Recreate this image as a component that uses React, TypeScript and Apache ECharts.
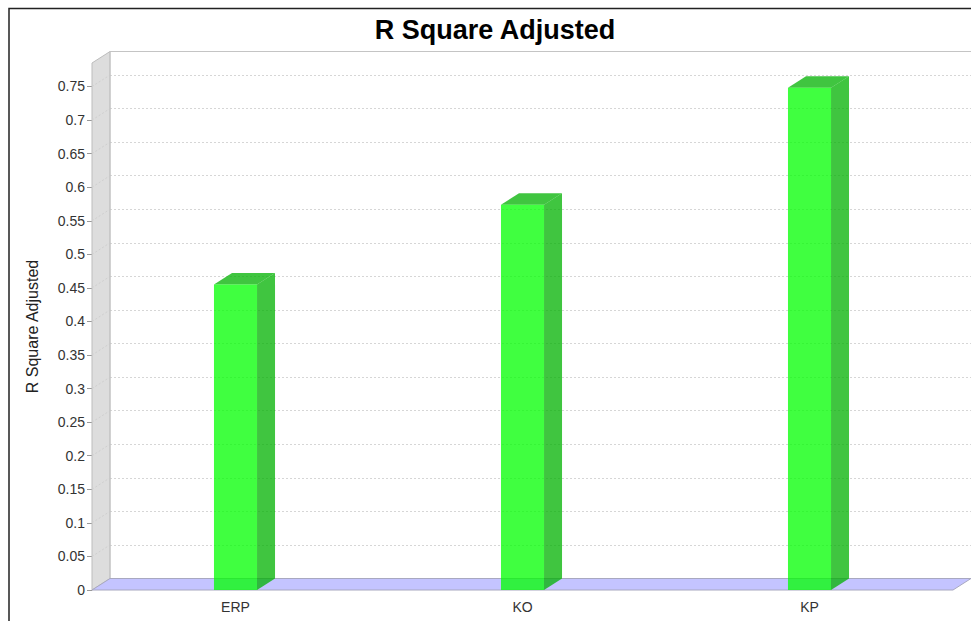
import React, { useEffect, useRef } from 'react';
import * as echarts from 'echarts';

const categories = ['ERP', 'KO', 'KP'];
const values = [0.455, 0.574, 0.748];
const yTicks = [0, 0.05, 0.1, 0.15, 0.2, 0.25, 0.3, 0.35, 0.4, 0.45, 0.5, 0.55, 0.6, 0.65, 0.7, 0.75];
const yMax = 0.785;
const titleText = 'R Square Adjusted';
const axisName = 'R Square Adjusted';

const DX = 18;
const DY = 11.5;
const FONT = '"Liberation Sans", Arial, sans-serif';

export default function App() {
  const ref = useRef<HTMLDivElement>(null);
  useEffect(() => {
    const chart = echarts.init(ref.current!, null, { renderer: 'svg' });
    const option: any = {
      animation: false,
      backgroundColor: '#ffffff',
      textStyle: { fontFamily: FONT },
      grid: [
        { left: 92, right: 18, top: 63, bottom: 31 },
        { left: 92 + DX, right: 0, top: 63 - DY, bottom: 31 + DY },
      ],
      xAxis: [
        {
          type: 'category', gridIndex: 0, data: categories, boundaryGap: true,
          axisLine: { show: false }, axisTick: { show: false }, splitLine: { show: false },
          axisLabel: { fontSize: 14, color: '#333', margin: 10, fontFamily: FONT },
        },
        { type: 'category', gridIndex: 1, data: categories, show: false },
      ],
      yAxis: [
        {
          type: 'value', gridIndex: 0, min: 0, max: yMax, interval: 0.05,
          name: axisName, nameLocation: 'middle', nameGap: 52,
          nameTextStyle: { fontSize: 16, color: '#222', fontFamily: FONT },
          axisLine: { show: false },
          axisTick: { show: true, length: 5, lineStyle: { color: '#999' }, customValues: yTicks },
          axisLabel: { fontSize: 14, color: '#333', margin: 7, fontFamily: FONT, customValues: yTicks },
          splitLine: { show: false },
        },
        {
          type: 'value', gridIndex: 1, min: 0, max: yMax, interval: 0.05,
          axisLine: { show: false }, axisTick: { show: false }, axisLabel: { show: false },
          splitLine: { show: true, lineStyle: { color: '#d6d6d6', type: [2, 2], width: 1 } },
        },
      ],
      graphic: [
        {
          type: 'polyline', silent: true, z: 10,
          shape: { points: [[9, 621], [9, 8.5], [971, 8.5]] },
          style: { stroke: '#222', lineWidth: 1.5, fill: 'none' },
        },
        {
          type: 'text', x: 495, y: 30, z: 10,
          style: { text: titleText, font: 'bold 27px "Liberation Sans", Arial, sans-serif', fill: '#000', textAlign: 'center', textVerticalAlign: 'middle' },
        },
      ],
      series: [
        {
          type: 'custom', xAxisIndex: 0, yAxisIndex: 0, z: 1, silent: true,
          data: [[0, 0]],
          renderItem: (params: any, api: any) => {
            const cs = params.coordSys;
            const x0 = cs.x, y0 = cs.y, x1 = cs.x + cs.width, y1 = cs.y + cs.height;
            const children: any[] = [];
            children.push({
              type: 'polygon',
              shape: { points: [[x0, y0], [x0 + DX, y0 - DY], [x0 + DX, y1 - DY], [x0, y1]] },
              style: { fill: '#dddddd', stroke: '#bdbdbd', lineWidth: 1 },
            });
            yTicks.forEach((v) => {
              if (v === 0) return;
              const yf = api.coord([0, v])[1];
              children.push({
                type: 'line',
                shape: { x1: x0, y1: yf, x2: x0 + DX, y2: yf - DY },
                style: { stroke: '#cfcfcf', lineWidth: 1, lineDash: [2, 2] },
              });
            });
            children.push({
              type: 'polyline',
              shape: { points: [[x0 + DX, y1 - DY], [x0 + DX, y0 - DY], [x1 + DX + 40, y0 - DY]] },
              style: { stroke: '#c4c4c4', lineWidth: 1, fill: 'none' },
            });
            children.push({
              type: 'polygon',
              shape: { points: [[x0, y1], [x0 + DX, y1 - DY], [x1 + DX, y1 - DY], [x1, y1]] },
              style: { fill: '#c4c4ff', stroke: '#a8a8c0', lineWidth: 1 },
            });
            return { type: 'group', children };
          },
        },
        {
          type: 'custom', xAxisIndex: 0, yAxisIndex: 0, z: 3,
          data: values.map((v, i) => [i, v]),
          encode: { x: 0, y: 1 },
          renderItem: (params: any, api: any) => {
            const idx = api.value(0);
            const v = api.value(1);
            const top = api.coord([idx, v]);
            const base = api.coord([idx, 0]);
            const bw = api.size([1, 0])[0] * 0.15;
            const xL = top[0] - bw / 2;
            const xR = top[0] + bw / 2;
            const yT = top[1];
            const yB = base[1];
            const front = 'rgba(0,255,0,0.75)';
            const dark = 'rgba(0,178,0,0.75)';
            return {
              type: 'group',
              children: [
                {
                  type: 'polygon',
                  shape: { points: [[xR, yT], [xR + DX, yT - DY], [xR + DX, yB - DY], [xR, yB]] },
                  style: { fill: dark },
                },
                {
                  type: 'polygon',
                  shape: { points: [[xL, yT], [xL + DX, yT - DY], [xR + DX, yT - DY], [xR, yT]] },
                  style: { fill: dark },
                },
                {
                  type: 'rect',
                  shape: { x: xL, y: yT, width: bw, height: yB - yT },
                  style: { fill: front },
                },
              ],
            };
          },
        },
      ],
    };
    chart.setOption(option);
    return () => chart.dispose();
  }, []);
  return <div ref={ref} style={{ position: 'absolute', left: 0, top: 0, width: 971, height: 621 }} />;
}
